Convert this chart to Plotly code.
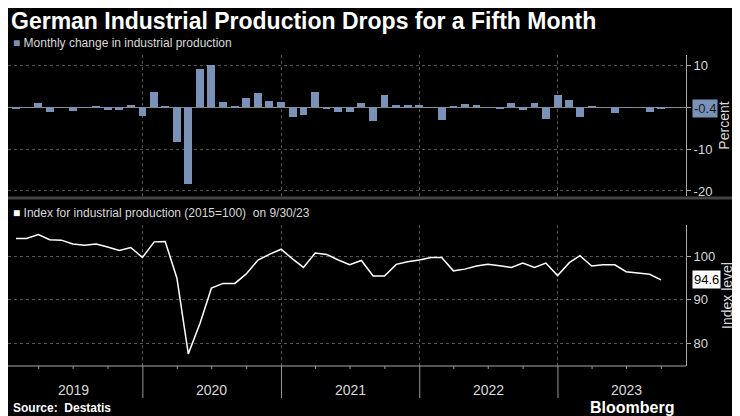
import pandas as pd
import plotly.graph_objects as go
from plotly.subplots import make_subplots

# Monthly data, Jan 2019 - Sep 2023, plotted at month end
months = pd.date_range("2019-01-31", "2023-09-30", freq="ME")

mom_change = [-0.4, -0.1, 0.9, -1.2, -0.1, -1.0, -0.1, 0.3, -0.7, -0.7, 0.5, -2.1,
              3.5, 0.2, -8.3, -18.4, 9.1, 10.0, 1.2, 0.2, 2.1, 3.4, 1.5, 1.2,
              -2.4, -1.8, 3.5, -0.4, -1.1, -1.1, 0.9, -3.4, 2.9, 0.4, 0.4, 0.6,
              -0.1, -3.1, 0.3, 0.7, 0.5, -0.2, -0.3, 1.0, -0.8, 0.9, -2.9, 2.9,
              1.7, -2.4, 0.2, 0.0, -1.4, -0.2, 0.0, -1.2, -0.4]

index_level = [104.2, 104.2, 105.1, 103.9, 103.8, 102.9, 102.6, 102.9, 102.2, 101.4, 102.1, 99.8,
               103.4, 103.5, 95.0, 77.5, 84.6, 92.7, 93.8, 93.8, 96.0, 99.2, 100.5, 101.7,
               99.4, 97.5, 100.8, 100.5, 99.2, 98.1, 99.1, 95.5, 95.5, 98.2, 98.8, 99.2,
               99.8, 99.8, 96.7, 97.1, 97.8, 98.2, 97.9, 97.5, 98.5, 97.5, 98.5, 95.6,
               98.6, 100.2, 97.8, 98.1, 98.1, 96.5, 96.2, 95.9, 94.6]

years = ["2019", "2020", "2021", "2022", "2023"]
year_starts = ["2020-01-01", "2021-01-01", "2022-01-01", "2023-01-01"]

BG = "black"
BAR = "#7a92b8"
GRID = "#555555"
TXT = "#d9d9d9"
FONT = "Liberation Sans"
W, H = 732, 408   # page body keeps an 8px margin


def py(y):
    # reference pixel row -> paper fraction
    return 1 - (y - 8) / H


fig = make_subplots(rows=2, cols=1, shared_xaxes=True)

fig.add_trace(go.Bar(x=months, y=mom_change, marker_color=BAR, marker_line_width=0,
                     width=8 * 24 * 3600 * 1000 * 2.6), row=1, col=1)
fig.add_trace(go.Scatter(x=months, y=index_level, mode="lines",
                         line=dict(color="white", width=1.5)), row=2, col=1)

xrange = ["2019-01-10", "2023-12-05"]
for r in (1, 2):
    fig.update_xaxes(range=xrange, tickvals=year_starts, showticklabels=False,
                     showgrid=True, gridcolor=GRID, griddash="dot", gridwidth=1,
                     zeroline=False, showline=False, row=r, col=1)

fig.update_yaxes(range=[-21.2, 12.4], tickvals=[-20, -10, 0, 10], ticktext=["-20", "-10", "", "10"],
                 side="right", showgrid=True, gridcolor=GRID, griddash="dot",
                 zeroline=True, zerolinecolor="#888888", zerolinewidth=1,
                 showline=True, linecolor="#aaaaaa", ticks="outside", ticklen=4, tickcolor="#aaaaaa",
                 tickfont=dict(size=13, color=TXT),
                 title=dict(text="Percent", font=dict(size=14, color=TXT), standoff=7),
                 row=1, col=1)
fig.update_yaxes(range=[74.7, 107.3], tickvals=[80, 90, 100],
                 side="right", showgrid=True, gridcolor=GRID, griddash="dot", zeroline=False,
                 showline=True, linecolor="#aaaaaa", ticks="outside", ticklen=4, tickcolor="#aaaaaa",
                 tickfont=dict(size=13, color=TXT),
                 title=dict(text="Index level", font=dict(size=14, color=TXT), standoff=7),
                 row=2, col=1)

fig.update_layout(
    xaxis=dict(domain=[0, 1]), xaxis2=dict(domain=[0, 1]),
    yaxis=dict(domain=[py(196), py(55)]),
    yaxis2=dict(domain=[py(366), py(225)]),
    width=W, height=H, margin=dict(l=0, r=54, t=0, b=0, autoexpand=False),
    paper_bgcolor=BG, plot_bgcolor=BG, showlegend=False, bargap=0,
    font=dict(family=FONT, color=TXT),
)

# bottom axis line and year separators
fig.add_shape(type="line", xref="x2", yref="paper", x0=xrange[0], x1=xrange[1],
              y0=py(366), y1=py(366), line=dict(color="#aaaaaa", width=1))
for ys in year_starts:
    fig.add_shape(type="line", xref="x2", yref="paper", x0=ys, x1=ys,
                  y0=py(398), y1=py(366), line=dict(color="#999999", width=1))
for q in pd.date_range("2019-04-01", "2023-10-01", freq="QS"):
    if q.month != 1:
        fig.add_shape(type="line", xref="x2", yref="paper", x0=q, x1=q,
                      y0=py(369), y1=py(366), line=dict(color="#999999", width=1))
# separator between panels
fig.add_shape(type="line", xref="paper", yref="paper", x0=0, x1=1.07,
              y0=py(198), y1=py(198), line=dict(color="#444444", width=3))

for yr in years:
    fig.add_annotation(x=f"{yr}-07-01", y=py(390), xref="x2", yref="paper", yanchor="middle",
                       text=yr, showarrow=False, font=dict(size=14, color=TXT))

# last value tags
fig.add_annotation(x=1, xref="paper", y=mom_change[-1], yref="y", xanchor="left", xshift=6,
                   text="-0.4", showarrow=False, bgcolor=BAR, font=dict(size=13, color="#1a1a1a"),
                   borderpad=1)
fig.add_annotation(x=1, xref="paper", y=index_level[-1], yref="y2", xanchor="left", xshift=6,
                   text="94.6", showarrow=False, bgcolor="white", font=dict(size=13, color="black"),
                   borderpad=1)

fig.add_annotation(x=0, y=py(21), xref="paper", yref="paper", xanchor="left", yanchor="middle",
                   xshift=1, text="<b>German Industrial Production Drops for a Fifth Month</b>",
                   showarrow=False, font=dict(size=23, color="white"))
fig.add_annotation(x=0.005, y=py(43), xref="paper", yref="paper", xanchor="left", yanchor="middle",
                   text=f"<span style='color:{BAR}'>■</span> Monthly change in industrial production",
                   showarrow=False, font=dict(size=12, color=TXT))
fig.add_annotation(x=0.005, y=py(213), xref="paper", yref="paper", xanchor="left", yanchor="middle",
                   text="<span style='color:white'>■</span> Index for industrial production (2015=100)  on 9/30/23",
                   showarrow=False, font=dict(size=12, color=TXT))
fig.add_annotation(x=0.005, y=py(408), xref="paper", yref="paper", xanchor="left", yanchor="middle",
                   text="<b>Source:  Destatis</b>", showarrow=False, font=dict(size=12, color="white"))
fig.add_annotation(x=0.985, y=py(407), xref="paper", yref="paper", xanchor="right", yanchor="middle",
                   text="<b>Bloomberg</b>", showarrow=False, font=dict(size=16, color="white"))

fig.write_html("out.html")
